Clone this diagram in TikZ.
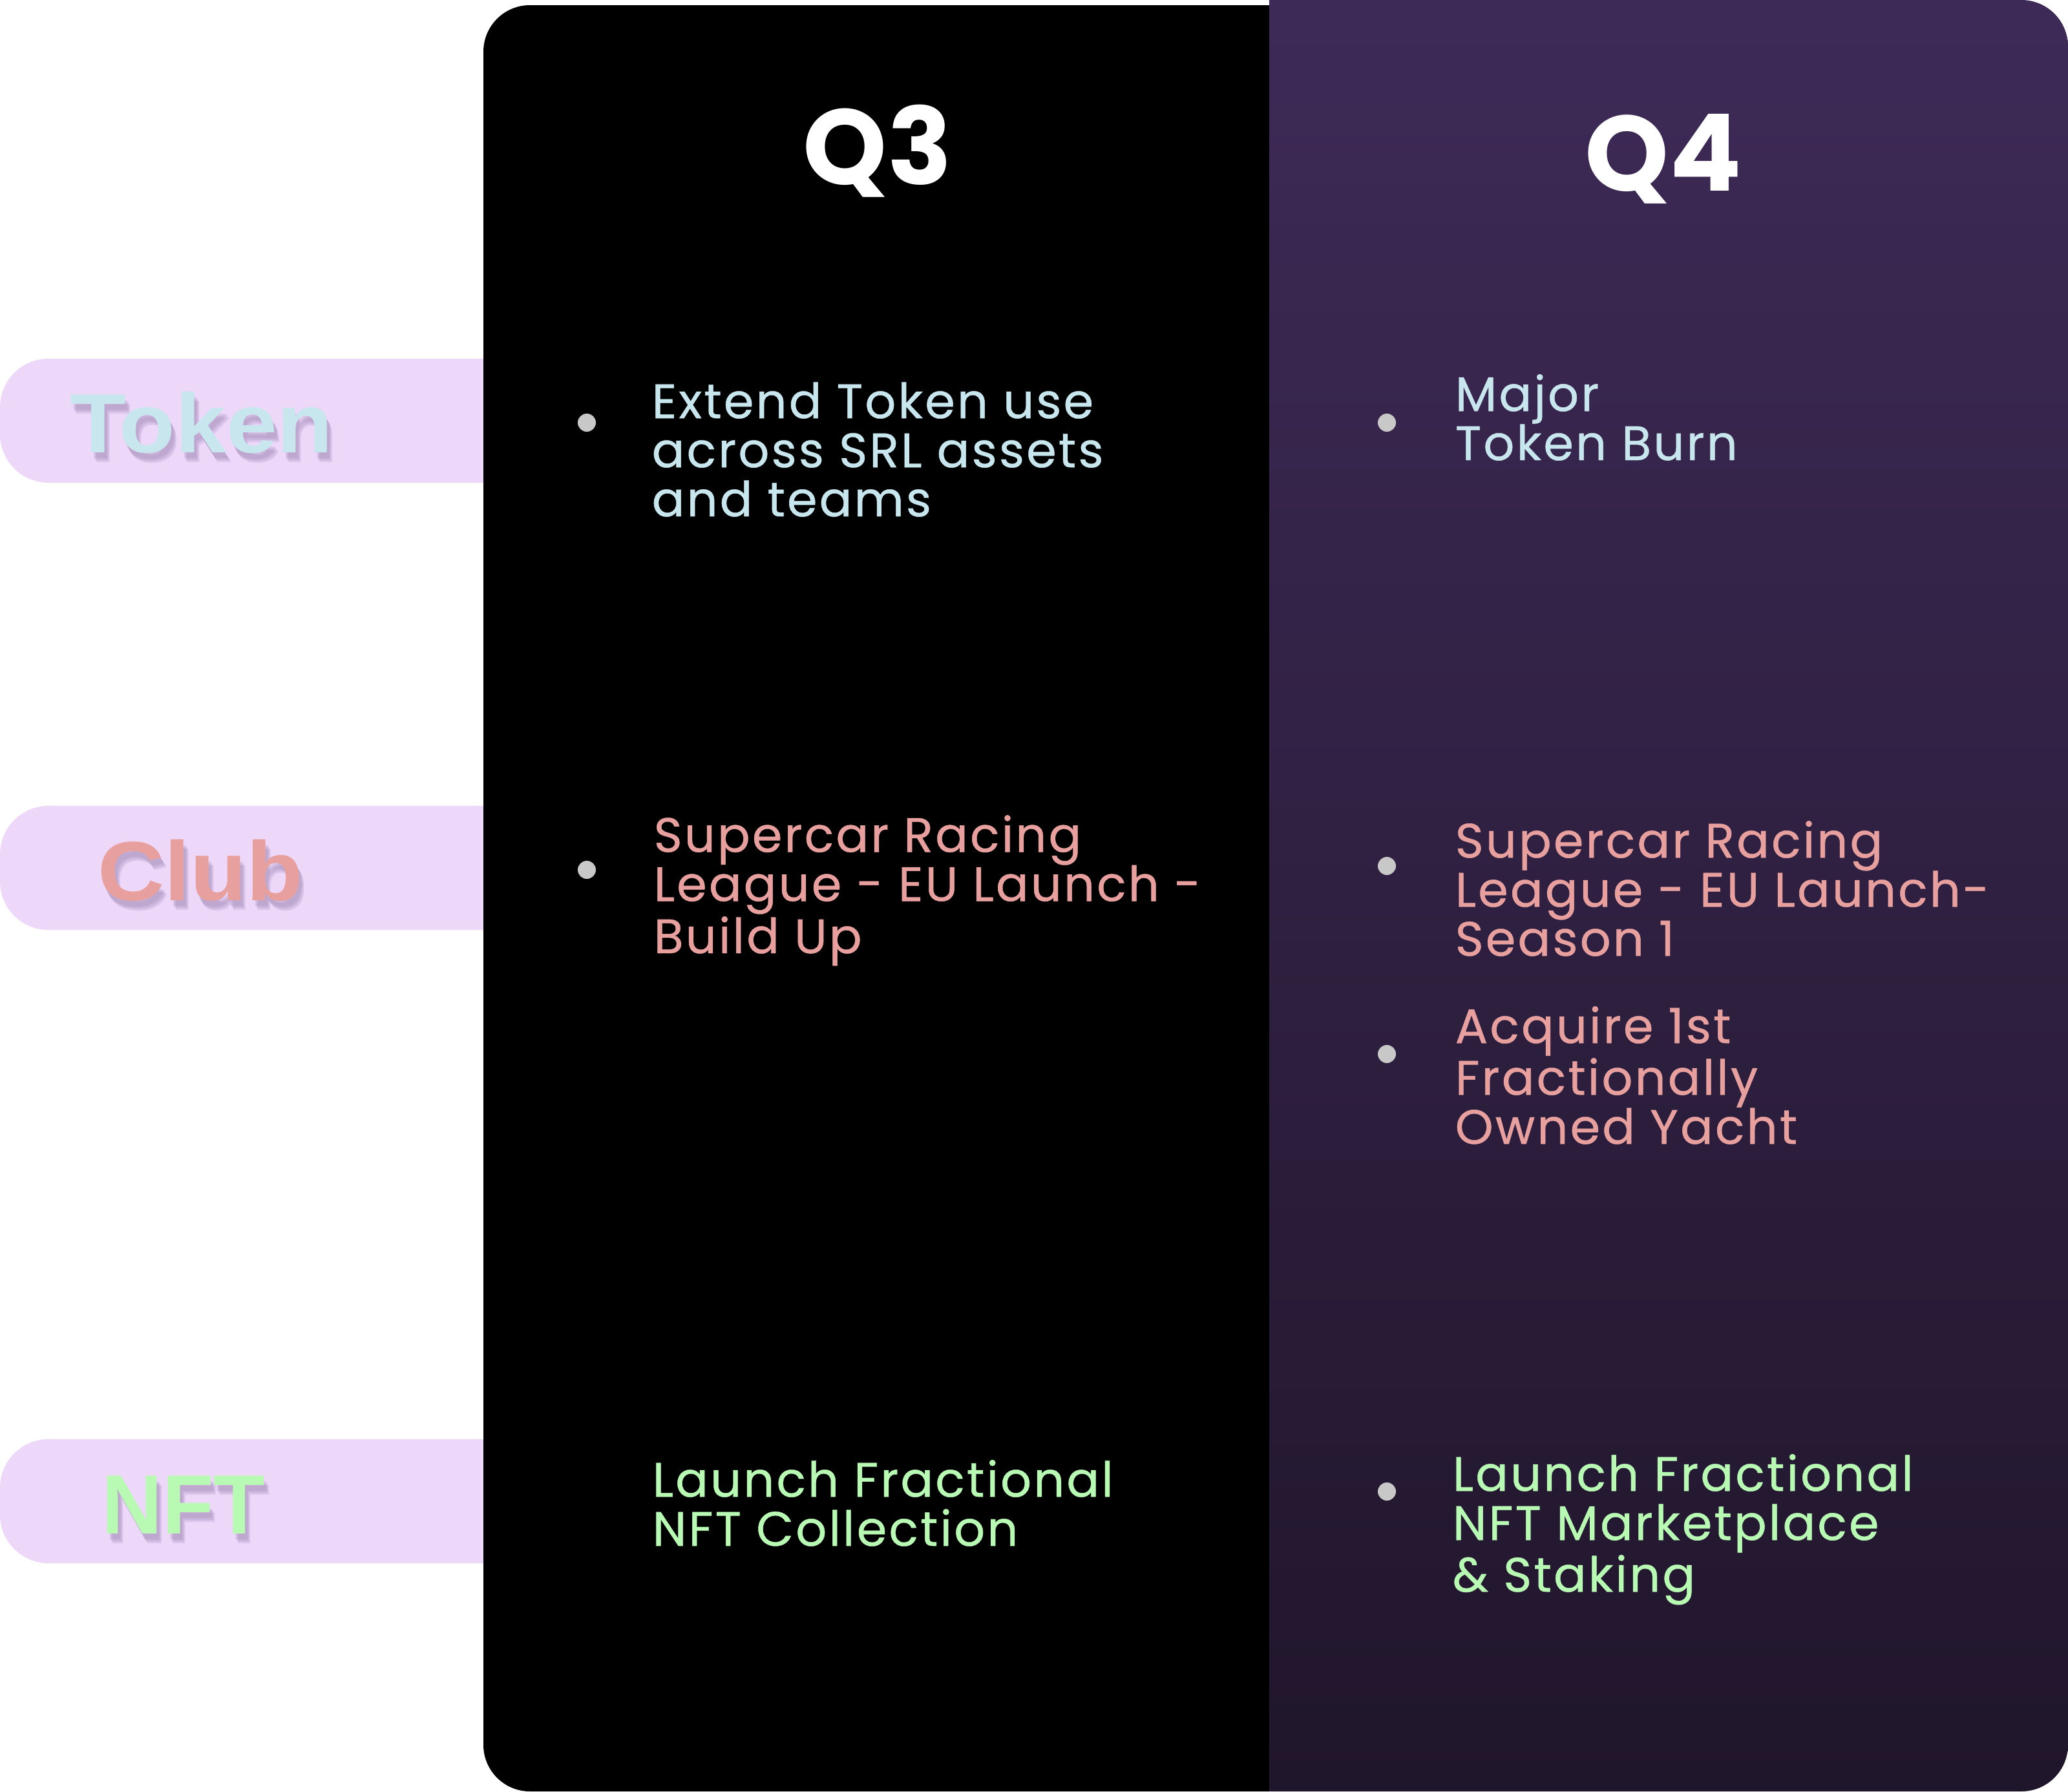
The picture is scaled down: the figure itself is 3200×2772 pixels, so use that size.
\documentclass[tikz,border=0pt]{standalone}
\usepackage{fontspec}
\setmainfont{Poppins}
\newfontfamily\itemfont[LetterSpace=4.3, FakeBold=0.6]{Poppins}
\newfontfamily\tabfont{Liberation Sans}

\definecolor{tabfill}{HTML}{EED8FA}
\definecolor{tabshadow}{HTML}{8E78A6}
\definecolor{tokencol}{HTML}{C8E6EE}
\definecolor{clubcol}{HTML}{E8A09E}
\definecolor{nftcol}{HTML}{B8F9B4}
\definecolor{dotgray}{HTML}{C8C8C8}
\definecolor{plumtop}{HTML}{3E2A57}
\definecolor{plumbot}{HTML}{20162B}

\begin{document}
\begin{tikzpicture}[x=0.01cm, y=-0.01cm,
  item/.style={anchor=base west, inner sep=0pt, align=left,
    font=\itemfont\fontsize{21.3pt}{21.6pt}\selectfont},
  quarter/.style={anchor=base, inner sep=0pt, text=white,
    font=\fontsize{47pt}{50pt}\selectfont\bfseries},
  tablabel/.style={anchor=base, inner sep=0pt,
    font=\tabfont\bfseries\fontsize{37pt}{40pt}\selectfont},
  tabshade/.style={tablabel, text=tabshadow, opacity=0.2},
  bullet/.style={circle, fill=dotgray, inner sep=0pt, minimum size=0.28cm}]
\useasboundingbox (0,0) rectangle (3200,2772);

% tabs on the left
\foreach \ty in {555, 1247, 2227}
  \fill[tabfill, rounded corners=0.75cm] (0,\ty) rectangle (820,\ty+192);

% soft shadows under the tab labels
\foreach \dx/\dy in {4/9, 8/15, 6/12} {
  \node[tabshade] at (312+\dx,700+\dy) {\scalebox{1.09}[1]{Token}};
  \node[tabshade] at (310+\dx,1393+\dy) {\scalebox{1.1}[1]{Club}};
  \node[tabshade] at (284+\dx,2373+\dy) {NFT};
}
\node[tablabel, text=tokencol] (token) at (312,700) {\scalebox{1.09}[1]{Token}};
\node[tablabel, text=clubcol] (club) at (310,1393) {\scalebox{1.1}[1]{Club}};
\node[tablabel, text=nftcol] (nft) at (284,2373) {NFT};

% Q3 panel
\fill[black] (1964,8) -- (820,8) arc[start angle=270, end angle=180, radius=72]
  -- (748,2700) arc[start angle=180, end angle=90, radius=72] -- (1964,2772) -- cycle;
% Q4 panel
\shade[top color=plumtop, bottom color=plumbot] (1964,0) -- (3128,0)
  arc[start angle=270, end angle=360, radius=72] -- (3200,2700)
  arc[start angle=0, end angle=90, radius=72] -- (1964,2772) -- cycle;

\node[quarter] (q3) at (1358,285) {Q3};
\node[quarter] (q4) at (2574,295) {Q4};

\foreach \bx/\by/\bname in {908/654/dota, 908/1346/dotb, 2146/654/dotc,
    2146/1340/dotd, 2146/1631/dote, 2146/2308/dotf}
  \node[bullet] (\bname) at (\bx,\by) {};

% items, placed by the baseline of their last line
\node[item, text=tokencol] (q3token) at (1008,799) {Extend Token use\\across SRL assets\\and teams};
\node[item, text=clubcol] (q3club) at (1011,1475) {Supercar Racing\\League - EU Launch -\\Build Up};
\node[item, text=nftcol] (q3nft) at (1009,2392) {Launch Fractional\\NFT Collection};

\node[item, text=tokencol] (q4token) at (2251,712) {Major\\Token Burn};
\node[item, text=clubcol] (q4club) at (2251,1479) {Supercar Racing\\League - EU Launch-\\Season 1};
\node[item, text=clubcol] (q4yacht) at (2251,1770) {Acquire 1st\\Fractionally\\Owned Yacht};
\node[item, text=nftcol] (q4nft) at (2247,2463) {Launch Fractional\\NFT Marketplace\\\& Staking};
\end{tikzpicture}
\end{document}
